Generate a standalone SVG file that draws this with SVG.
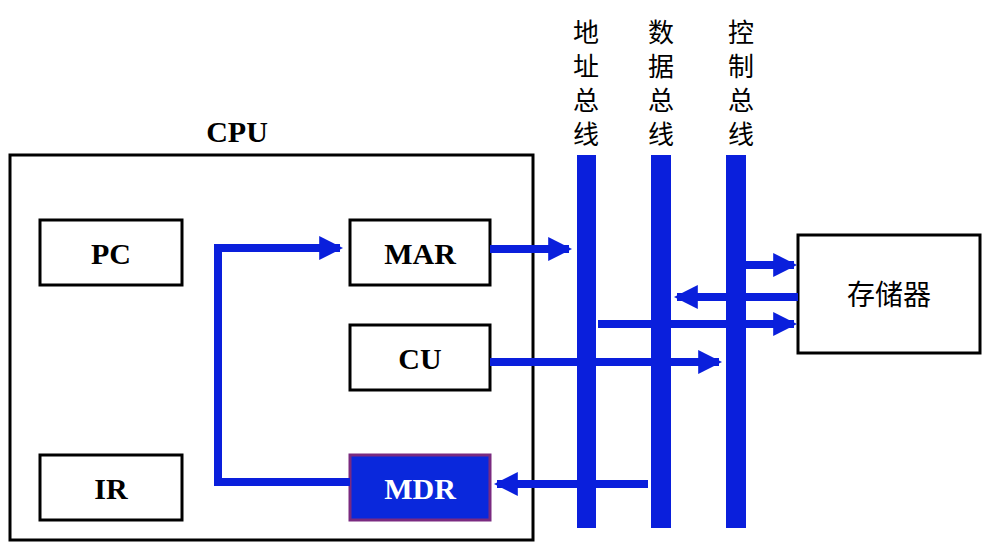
<svg xmlns="http://www.w3.org/2000/svg" width="989" height="548" viewBox="0 0 989 548">
<style>
.box{fill:#fff;stroke:#000;stroke-width:3}
.t{font-family:"Liberation Serif",serif;font-weight:bold;font-size:30px;text-anchor:middle}
.c{font-family:"Noto Sans CJK SC",sans-serif;font-size:28px;text-anchor:middle}
.v{font-family:"Noto Sans CJK SC",sans-serif;font-size:26px;text-anchor:middle}
.bus{fill:#0a1fdc}
.ln{stroke:#0a1fdc;stroke-width:8;fill:none}
</style>
<defs><marker id="a" markerWidth="3" markerHeight="3" refX="2.6" refY="1.5" orient="auto" markerUnits="strokeWidth"><path d="M0,0L3,1.5L0,3z" fill="#0a1fdc"/></marker></defs>
<rect width="989" height="548" fill="#fff"/>
<g id="cpu"><rect x="10" y="155" width="523" height="385" fill="none" stroke="#000" stroke-width="3"/><text class="t" x="237" y="142">CPU</text></g>
<g id="pc"><rect class="box" x="40" y="220" width="142" height="65"/><text class="t" x="111" y="264">PC</text></g>
<g id="ir"><rect class="box" x="40" y="455" width="142" height="65"/><text class="t" x="111" y="499">IR</text></g>
<g id="mar"><rect class="box" x="350" y="220" width="140" height="65"/><text class="t" x="420" y="264">MAR</text></g>
<g id="cu"><rect class="box" x="350" y="325" width="140" height="65"/><text class="t" x="420" y="369">CU</text></g>
<g id="mdr"><rect x="350" y="455" width="140" height="65" fill="#0a28dc" stroke="#7a2a80" stroke-width="3"/><text class="t" x="420" y="499" fill="#fff">MDR</text></g>
<g id="mem"><rect class="box" x="798" y="235" width="182" height="118"/><text class="c" x="889" y="305">存储器</text></g>
<g id="connectors">
<path class="ln" d="M350,482H218V248H340" marker-end="url(#a)"/>
<path class="ln" d="M490,249H569" marker-end="url(#a)"/>
<path class="ln" d="M490,362H719" marker-end="url(#a)"/>
<path class="ln" d="M648,484H497" marker-end="url(#a)"/>
<path class="ln" d="M746,265H794" marker-end="url(#a)"/>
<path class="ln" d="M798,297H677" marker-end="url(#a)"/>
<path class="ln" d="M598,324H794" marker-end="url(#a)"/>
</g>
<g id="buses">
<rect class="bus" x="577" y="155" width="19" height="373"/>
<rect class="bus" x="651" y="155" width="20" height="373"/>
<rect class="bus" x="726" y="155" width="20" height="373"/>
<text class="v"><tspan x="586" y="42">地</tspan><tspan x="586" y="76">址</tspan><tspan x="586" y="110">总</tspan><tspan x="586" y="144">线</tspan></text>
<text class="v"><tspan x="661" y="42">数</tspan><tspan x="661" y="76">据</tspan><tspan x="661" y="110">总</tspan><tspan x="661" y="144">线</tspan></text>
<text class="v"><tspan x="741" y="42">控</tspan><tspan x="741" y="76">制</tspan><tspan x="741" y="110">总</tspan><tspan x="741" y="144">线</tspan></text>
</g>
</svg>
